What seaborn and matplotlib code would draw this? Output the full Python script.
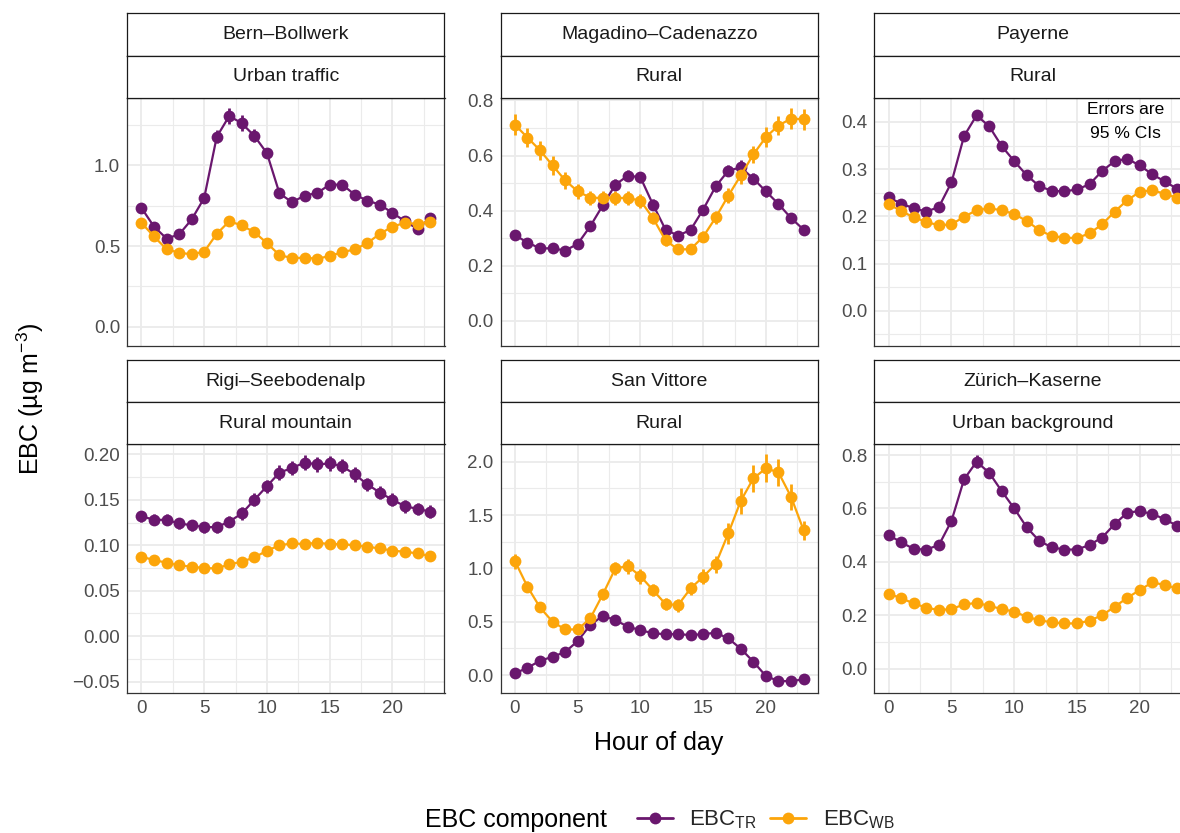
import numpy as np
import pandas as pd
import matplotlib.pyplot as plt
import seaborn as sns
from matplotlib.lines import Line2D
from matplotlib.ticker import MultipleLocator, FuncFormatter

# Data
hours = list(range(24))
sites = ["Bern\u2013Bollwerk", "Magadino\u2013Cadenazzo", "Payerne",
         "Rigi\u2013Seebodenalp", "San Vittore", "Z\u00fcrich\u2013Kaserne"]
site_types = ["Urban traffic", "Rural", "Rural",
              "Rural mountain", "Rural", "Urban background"]
components = ["EBC$_{\\mathrm{TR}}$", "EBC$_{\\mathrm{WB}}$"]

bern_tr = [0.737, 0.621, 0.547, 0.572, 0.665, 0.798, 1.177, 1.307, 1.261, 1.183, 1.076, 0.827,
           0.772, 0.813, 0.829, 0.881, 0.881, 0.819, 0.782, 0.757, 0.706, 0.654, 0.607, 0.673]
bern_wb = [0.644, 0.560, 0.481, 0.459, 0.449, 0.465, 0.576, 0.654, 0.628, 0.586, 0.519, 0.444,
           0.426, 0.428, 0.422, 0.438, 0.463, 0.479, 0.519, 0.576, 0.621, 0.644, 0.638, 0.650]
mag_tr = [0.311, 0.284, 0.263, 0.263, 0.255, 0.279, 0.343, 0.419, 0.494, 0.527, 0.521, 0.422,
          0.331, 0.309, 0.330, 0.404, 0.488, 0.545, 0.557, 0.516, 0.470, 0.424, 0.373, 0.331]
mag_wb = [0.712, 0.665, 0.619, 0.564, 0.510, 0.470, 0.447, 0.446, 0.446, 0.446, 0.436, 0.373,
          0.292, 0.259, 0.260, 0.305, 0.375, 0.454, 0.528, 0.604, 0.667, 0.709, 0.734, 0.732]
pay_tr = [0.240, 0.227, 0.217, 0.210, 0.220, 0.272, 0.370, 0.414, 0.391, 0.349, 0.317, 0.287,
          0.264, 0.254, 0.253, 0.257, 0.268, 0.296, 0.317, 0.322, 0.308, 0.289, 0.274, 0.258]
pay_wb = [0.226, 0.211, 0.198, 0.188, 0.181, 0.183, 0.199, 0.213, 0.217, 0.213, 0.205, 0.190,
          0.171, 0.158, 0.155, 0.154, 0.164, 0.183, 0.210, 0.234, 0.252, 0.255, 0.248, 0.239]
rigi_tr = [0.132, 0.128, 0.128, 0.124, 0.122, 0.120, 0.120, 0.126, 0.135, 0.150, 0.165, 0.180,
           0.185, 0.191, 0.189, 0.190, 0.187, 0.178, 0.167, 0.158, 0.150, 0.143, 0.140, 0.137]
rigi_wb = [0.0874, 0.0837, 0.0808, 0.0778, 0.0764, 0.0749, 0.0745, 0.0789, 0.0819, 0.0866,
           0.0940, 0.0999, 0.1021, 0.1013, 0.1028, 0.1013, 0.1013, 0.0999, 0.0984, 0.0965,
           0.0940, 0.0929, 0.0910, 0.0881]
sv_tr = [0.016, 0.069, 0.134, 0.172, 0.216, 0.319, 0.469, 0.556, 0.516, 0.453, 0.422, 0.391,
         0.384, 0.384, 0.375, 0.384, 0.397, 0.344, 0.247, 0.125, -0.009, -0.056, -0.056, -0.041]
sv_wb = [1.069, 0.828, 0.634, 0.500, 0.428, 0.428, 0.531, 0.756, 1.000, 1.022, 0.928, 0.797,
         0.666, 0.656, 0.813, 0.922, 1.041, 1.328, 1.634, 1.844, 1.938, 1.900, 1.672, 1.359]
zur_tr = [0.500, 0.473, 0.448, 0.446, 0.463, 0.553, 0.709, 0.775, 0.734, 0.665, 0.600, 0.529,
          0.478, 0.454, 0.446, 0.446, 0.463, 0.491, 0.541, 0.584, 0.590, 0.579, 0.560, 0.534]
zur_wb = [0.281, 0.263, 0.244, 0.228, 0.219, 0.223, 0.240, 0.246, 0.235, 0.223, 0.213, 0.194,
          0.181, 0.173, 0.169, 0.169, 0.179, 0.200, 0.231, 0.265, 0.294, 0.323, 0.313, 0.300]

# 95 % CI half widths
bern_tr_ci = [0.03, 0.02, 0.02, 0.02, 0.02, 0.03, 0.04, 0.05, 0.05, 0.04, 0.03, 0.02,
              0.02, 0.02, 0.02, 0.02, 0.02, 0.02, 0.02, 0.02, 0.02, 0.02, 0.03, 0.03]
bern_wb_ci = [0.02, 0.02, 0.015, 0.015, 0.015, 0.015, 0.015, 0.015, 0.015, 0.015, 0.015, 0.01,
              0.01, 0.01, 0.01, 0.01, 0.01, 0.015, 0.015, 0.02, 0.02, 0.03, 0.03, 0.03]
mag_tr_ci = [0.012, 0.012, 0.01, 0.01, 0.01, 0.012, 0.015, 0.02, 0.02, 0.02, 0.02, 0.02,
             0.015, 0.012, 0.012, 0.015, 0.02, 0.02, 0.025, 0.02, 0.02, 0.015, 0.015, 0.012]
mag_wb_ci = [0.038, 0.035, 0.035, 0.035, 0.03, 0.028, 0.025, 0.025, 0.025, 0.025, 0.025, 0.022,
             0.02, 0.018, 0.018, 0.02, 0.025, 0.028, 0.03, 0.032, 0.035, 0.035, 0.038, 0.038]
pay_tr_ci = [0.006, 0.006, 0.005, 0.005, 0.006, 0.007, 0.008, 0.009, 0.008, 0.007, 0.006, 0.006,
             0.005, 0.005, 0.005, 0.005, 0.006, 0.006, 0.006, 0.006, 0.006, 0.006, 0.006, 0.006]
pay_wb_ci = [0.005, 0.004, 0.004, 0.004, 0.004, 0.004, 0.004, 0.004, 0.004, 0.004, 0.004, 0.004,
             0.004, 0.004, 0.004, 0.004, 0.004, 0.004, 0.004, 0.004, 0.004, 0.004, 0.004, 0.004]
rigi_tr_ci = [0.006, 0.006, 0.006, 0.006, 0.006, 0.006, 0.006, 0.006, 0.007, 0.007, 0.007, 0.008,
              0.008, 0.008, 0.008, 0.008, 0.008, 0.008, 0.007, 0.007, 0.007, 0.007, 0.007, 0.007]
rigi_wb_ci = [0.003, 0.003, 0.003, 0.003, 0.003, 0.003, 0.003, 0.003, 0.003, 0.003, 0.003, 0.003,
              0.003, 0.003, 0.003, 0.003, 0.003, 0.003, 0.003, 0.003, 0.003, 0.003, 0.003, 0.003]
sv_tr_ci = [0.02, 0.02, 0.02, 0.02, 0.02, 0.025, 0.03, 0.03, 0.03, 0.025, 0.025, 0.025,
            0.025, 0.025, 0.025, 0.025, 0.025, 0.025, 0.025, 0.025, 0.02, 0.02, 0.02, 0.02]
sv_wb_ci = [0.07, 0.05, 0.04, 0.03, 0.03, 0.03, 0.04, 0.05, 0.06, 0.07, 0.07, 0.06,
            0.06, 0.06, 0.06, 0.07, 0.08, 0.10, 0.12, 0.13, 0.13, 0.13, 0.12, 0.09]
zur_tr_ci = [0.01, 0.01, 0.01, 0.01, 0.01, 0.015, 0.02, 0.025, 0.02, 0.02, 0.015, 0.015,
             0.01, 0.01, 0.01, 0.01, 0.01, 0.01, 0.015, 0.015, 0.015, 0.015, 0.015, 0.015]
zur_wb_ci = [0.008, 0.008, 0.007, 0.007, 0.007, 0.007, 0.007, 0.007, 0.007, 0.007, 0.007, 0.006,
             0.006, 0.006, 0.006, 0.006, 0.006, 0.007, 0.007, 0.008, 0.008, 0.009, 0.009, 0.009]

tr_values = [bern_tr, mag_tr, pay_tr, rigi_tr, sv_tr, zur_tr]
wb_values = [bern_wb, mag_wb, pay_wb, rigi_wb, sv_wb, zur_wb]
tr_ci = [bern_tr_ci, mag_tr_ci, pay_tr_ci, rigi_tr_ci, sv_tr_ci, zur_tr_ci]
wb_ci = [bern_wb_ci, mag_wb_ci, pay_wb_ci, rigi_wb_ci, sv_wb_ci, zur_wb_ci]

# y limits / tick steps per panel (free scales)
y_limits = [(-0.12, 1.42), (-0.092, 0.81), (-0.075, 0.4515),
            (-0.0624, 0.211), (-0.166, 2.1625), (-0.091, 0.84)]
y_steps = [0.5, 0.2, 0.1, 0.05, 0.5, 0.2]
y_decimals = [1, 1, 1, 2, 1, 1]

# long table
rows = []
for i, site in enumerate(sites):
    for comp, vals, cis in [(components[0], tr_values[i], tr_ci[i]),
                            (components[1], wb_values[i], wb_ci[i])]:
        for h, v, c in zip(hours, vals, cis):
            rows.append({"site": site, "hour": h, "component": comp, "value": v, "ci": c})
df = pd.DataFrame(rows)

palette = {components[0]: "#6A176E", components[1]: "#FCA50A"}

sns.set_theme(style="white")
plt.rcParams["font.family"] = ["Liberation Sans", "DejaVu Sans"]
plt.rcParams["mathtext.fontset"] = "custom"
plt.rcParams["mathtext.rm"] = "Liberation Sans"
plt.rcParams["mathtext.it"] = "Liberation Sans:italic"

W, H = 1180, 833
fig = plt.figure(figsize=(W / 100, H / 100), dpi=100)


def px_axes(x0, y_top, w, h):
    return fig.add_axes([x0 / W, 1 - (y_top + h) / H, w / W, h / H])


def make_fmt(dec):
    def f(v, pos):
        s = f"{v:.{dec}f}"
        if s.startswith("-"):
            if float(s) == 0:
                s = s[1:]
            else:
                s = "\u2212" + s[1:]
        return s
    return FuncFormatter(f)


col_left = [127, 500.5, 874.3]
panel_w = 317.5
strip_top = [13.3, 360.0]
strip_h = 42.2
panel_h = 248.4

for i, site in enumerate(sites):
    r, c = divmod(i, 3)
    x0 = col_left[c]
    top = strip_top[r] + 2 * strip_h
    ax = px_axes(x0, top, panel_w, panel_h)

    sub = df[df["site"] == site]
    for comp in components:
        s = sub[sub["component"] == comp]
        ax.vlines(s["hour"], s["value"] - s["ci"], s["value"] + s["ci"],
                  color=palette[comp], lw=2.0, zorder=3)
    sns.lineplot(data=sub, x="hour", y="value", hue="component", hue_order=components,
                 palette=palette, marker="o", markersize=8.5, markeredgewidth=0,
                 linewidth=1.6, errorbar=None, legend=False, ax=ax, zorder=4)

    ax.set_xlim(-1.15, 24.15)
    ax.set_ylim(*y_limits[i])
    ax.xaxis.set_major_locator(MultipleLocator(5))
    ax.xaxis.set_minor_locator(MultipleLocator(2.5))
    ax.yaxis.set_major_locator(MultipleLocator(y_steps[i]))
    ax.yaxis.set_minor_locator(MultipleLocator(y_steps[i] / 2))
    ax.yaxis.set_major_formatter(make_fmt(y_decimals[i]))
    ax.grid(which="major", color="#EBEBEB", lw=1.3)
    ax.grid(which="minor", color="#EBEBEB", lw=0.8)
    ax.set_axisbelow(True)
    ax.tick_params(which="both", length=0, labelsize=13.5, labelcolor="#4D4D4D", pad=5)
    if r == 0:
        ax.tick_params(axis="x", labelbottom=False)
    ax.set_xlabel("")
    ax.set_ylabel("")
    for sp in ax.spines.values():
        sp.set_color("#333333")
        sp.set_linewidth(0.9)

    # two-level facet strips
    for k, label in enumerate([site, site_types[i]]):
        sax = px_axes(x0, strip_top[r] + k * strip_h, panel_w, strip_h)
        sax.set_xticks([])
        sax.set_yticks([])
        for sp in sax.spines.values():
            sp.set_color("#1A1A1A")
            sp.set_linewidth(0.9)
        sax.text(0.5, 0.5, label, ha="center", va="center", fontsize=14,
                 color="#1A1A1A", transform=sax.transAxes)

    if i == 2:
        ax.text(18.9, 0.426, "Errors are", ha="center", va="center", fontsize=12.5,
                color="black")
        ax.text(18.9, 0.375, "95 % CIs", ha="center", va="center", fontsize=12.5,
                color="black")

fig.text(30 / W, 1 - 399 / H, "EBC (\u00b5g m$^{-3}$)", rotation=90,
         ha="center", va="center", fontsize=18, color="black")
fig.text(659 / W, 1 - 743 / H, "Hour of day", ha="center", va="center",
         fontsize=18, color="black")

fig.text(425 / W, 1 - 820 / H, "EBC component", ha="left", va="center",
         fontsize=18, color="black")
handles = [Line2D([0], [0], color=palette[cmp], marker="o", markersize=8.5,
                  markeredgewidth=0, lw=2) for cmp in components]
fig.legend(handles, components, loc="center left", ncol=2, frameon=False,
           bbox_to_anchor=(637 / W, 1 - 820 / H), fontsize=16, handlelength=1.6,
           columnspacing=0.6, handletextpad=0.75, borderaxespad=0, borderpad=0)

fig.savefig("out.png", dpi=100)
